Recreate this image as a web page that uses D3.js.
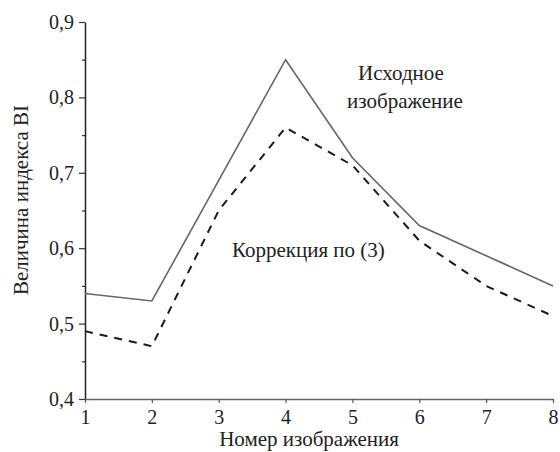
<!DOCTYPE html>
<html>
<head>
<meta charset="utf-8">
<script src="https://cdn.jsdelivr.net/npm/d3@7"></script>
<style>
  body { margin: 0; background: #fff; }
  svg text { font-family: "Times New Roman", Times, "Liberation Serif", "DejaVu Serif", serif; fill: #222; }
</style>
</head>
<body>
<div class="chart"></div>
<script>
let width = 560;
let height = 452;
let margin = {left: 85, right: 7, top: 22, bottom: 53};

// data
let images = [1, 2, 3, 4, 5, 6, 7, 8];
let original = [0.54, 0.53, 0.69, 0.85, 0.72, 0.63, 0.59, 0.55];
let corrected = [0.49, 0.47, 0.65, 0.76, 0.71, 0.61, 0.55, 0.51];
let yTicks = [0.4, 0.5, 0.6, 0.7, 0.8, 0.9];
let yMinor = [0.45, 0.55, 0.65, 0.75, 0.85];

let svg = d3.select('.chart')
  .append('svg')
  .attr('width', width)
  .attr('height', height);

let xScale = d3.scaleLinear()
  .domain([1, 8])
  .range([margin.left, width - margin.right]);
let yScale = d3.scaleLinear()
  .domain([0.4, 0.9])
  .range([height - margin.bottom, margin.top]);

let fmt = d => d3.format('.1f')(d).replace('.', ',');

// minor y ticks
svg.append('g')
  .attr('transform', 'translate(' + margin.left + ',0)')
  .call(d3.axisLeft(yScale).tickValues(yMinor).tickSize(3).tickFormat(''))
  .call(g => g.select('.domain').remove())
  .call(g => g.selectAll('line').attr('stroke', '#333').attr('stroke-width', 1.2));

let yAxis = svg.append('g')
  .attr('transform', 'translate(' + margin.left + ',0)')
  .attr('font-family', null)
  .call(d3.axisLeft(yScale).tickValues(yTicks).tickSize(6).tickSizeOuter(0).tickPadding(5).tickFormat(fmt));
yAxis.attr('font-family', null);
yAxis.select('.domain').attr('stroke', '#222').attr('stroke-width', 1.5);
yAxis.selectAll('line').attr('stroke', '#333').attr('stroke-width', 1.2);
yAxis.selectAll('text').style('font-size', '20px').attr('fill', '#222');

let xAxis = svg.append('g')
  .attr('transform', 'translate(0,' + (height - margin.bottom) + ')')
  .call(d3.axisBottom(xScale).tickValues(images).tickSize(4).tickSizeOuter(0).tickPadding(7).tickFormat(d3.format('d')));
xAxis.attr('font-family', null);
xAxis.select('.domain').attr('stroke', '#666').attr('stroke-width', 1.5);
xAxis.selectAll('line').attr('stroke', '#555').attr('stroke-width', 1.2);
xAxis.selectAll('text').style('font-size', '20px').attr('fill', '#222');

let line = d3.line()
  .x((d, i) => xScale(images[i]))
  .y(d => yScale(d));

svg.append('path')
  .datum(original)
  .attr('d', line)
  .attr('fill', 'none')
  .attr('stroke', '#666')
  .attr('stroke-width', 1.6);

svg.append('path')
  .datum(corrected)
  .attr('d', line)
  .attr('fill', 'none')
  .attr('stroke', '#1a1a1a')
  .attr('stroke-width', 2)
  .attr('stroke-dasharray', '8,7');

// axis titles
svg.append('text')
  .attr('x', 309)
  .attr('y', 446)
  .attr('text-anchor', 'middle')
  .style('font-size', '21px')
  .text('Номер изображения');

svg.append('text')
  .attr('transform', 'translate(28,' + 200 + ') rotate(-90)')
  .attr('text-anchor', 'middle')
  .style('font-size', '21px')
  .text('Величина индекса BI');

// annotations
svg.append('text')
  .attr('x', 401)
  .attr('y', 80)
  .attr('text-anchor', 'middle')
  .style('font-size', '21px')
  .text('Исходное');
svg.append('text')
  .attr('x', 405)
  .attr('y', 108)
  .attr('text-anchor', 'middle')
  .style('font-size', '21px')
  .text('изображение');

svg.append('text')
  .attr('x', 232)
  .attr('y', 257)
  .style('font-size', '21px')
  .text('Коррекция по (3)');
</script>
</body>
</html>
